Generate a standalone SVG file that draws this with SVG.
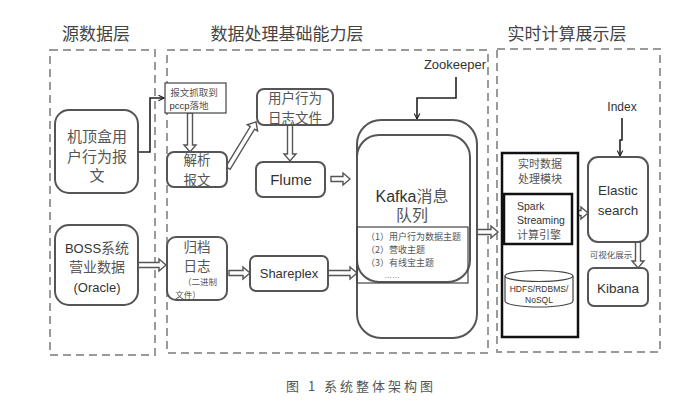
<svg xmlns="http://www.w3.org/2000/svg" width="682" height="409" viewBox="0 0 682 409">
<style>
.layer{fill:none;stroke:#9a9a9a;stroke-width:2;stroke-dasharray:8,5}
.box{fill:#fff;stroke:#555;stroke-width:2}
.thick{fill:#fff;stroke:#111;stroke-width:2.5}
.thin{fill:#fff;stroke:#444;stroke-width:1.2}
.ha{fill:#fff;stroke:#555;stroke-width:1.4;stroke-linejoin:miter}
.ln{fill:none;stroke:#222;stroke-width:1.6}
text{font-family:"Liberation Sans","Noto Sans CJK SC",sans-serif;text-anchor:middle;fill:#333}
.cn{font-family:"Noto Sans CJK SC",sans-serif;fill:#555}
.title{font-family:"Noto Sans CJK SC",sans-serif;font-size:17px;fill:#444}
</style>
<defs>
<marker id="ah" viewBox="0 0 10 10" refX="9" refY="5" markerWidth="7" markerHeight="7" markerUnits="userSpaceOnUse" orient="auto">
<path d="M1,1 L9,5 L1,9" fill="none" stroke="#222" stroke-width="1.6"/>
</marker>
</defs>

<g id="layers">
<rect class="layer" x="50" y="50" width="105" height="305"/>
<rect class="layer" x="167" y="50" width="321" height="303"/>
<rect class="layer" x="497" y="49" width="163" height="303"/>
<text class="title" x="96" y="40">源数据层</text>
<text class="title" x="287" y="40">数据处理基础能力层</text>
<text class="title" x="567" y="40">实时计算展示层</text>
</g>

<g id="connectors">
<polyline class="ln" points="138,152 150,152 150,98 164,98" marker-end="url(#ah)"/>
<polyline class="ln" points="456,77 456,98 417,98 417,119" marker-end="url(#ah)"/>
<polyline class="ln" points="622,118 622,140 620,140 620,156" marker-end="url(#ah)"/>
<polygon class="ha" points="187.5,113 192.5,113 192.5,145 196,145 190,152 184,145 187.5,145"/>
<polygon class="ha" transform="translate(228,168) rotate(-58.7)" points="0,-2.5 47,-2.5 47,-6 54,0 47,6 47,2.5 0,2.5"/>
<polygon class="ha" points="287.5,125 292.5,125 292.5,154 296,154 290,161 284,154 287.5,154"/>
<polygon class="ha" points="331,176.5 343,176.5 343,173 350,179 343,185 343,181.5 331,181.5"/>
<polygon class="ha" points="138,262.5 159,262.5 159,259 166,265 159,271 159,267.5 138,267.5"/>
<polygon class="ha" points="229,270.5 243,270.5 243,267 250,273 243,279 243,275.5 229,275.5"/>
<polygon class="ha" points="328,270.5 350,270.5 350,267 357,273 350,279 350,275.5 328,275.5"/>
<polygon class="ha" points="477,229.5 491,229.5 491,226 498,232 491,238 491,234.5 477,234.5"/>
<polygon class="ha" points="535.5,244 540.5,244 540.5,262 544,262 538,269 532,262 535.5,262"/>
<polygon class="ha" points="572,210.5 581,210.5 581,207 588,213 581,219 581,215.5 572,215.5"/>
<polygon class="ha" points="635.5,242 640.5,242 640.5,261 644,261 638,268 632,261 635.5,261"/>
</g>

<g id="n-stb">
<rect class="box" x="55" y="110" width="83" height="83" rx="14"/>
<text class="cn" font-size="15" x="97" y="142">机顶盒用</text>
<text class="cn" font-size="15" x="97" y="162">户行为报</text>
<text class="cn" font-size="15" x="97" y="181">文</text>
</g>

<g id="n-boss">
<rect class="box" x="55" y="225" width="83" height="80" rx="14"/>
<text font-size="13" x="97" y="253">BOSS<tspan class="cn" font-size="14">系统</tspan></text>
<text class="cn" font-size="14" x="97" y="272">营业数据</text>
<text font-size="13" x="97" y="292">(Oracle)</text>
</g>

<g id="n-capture">
<rect class="thin" x="165" y="83" width="61" height="30"/>
<text class="cn" font-size="9.5" x="194" y="96" fill="#333">报文抓取到</text>
<text font-size="9.5" x="189" y="109">pccp<tspan class="cn">落地</tspan></text>
</g>

<g id="n-parse">
<rect class="box" x="167" y="152" width="60" height="35" rx="7"/>
<text class="cn" font-size="13.5" x="197" y="165">解析</text>
<text class="cn" font-size="13.5" x="197" y="185">报文</text>
</g>

<g id="n-userlog">
<rect class="box" x="257" y="89" width="76" height="36" rx="7"/>
<text class="cn" font-size="13.5" x="295" y="103">用户行为</text>
<text class="cn" font-size="13.5" x="295" y="123">日志文件</text>
</g>

<g id="n-flume">
<rect class="box" x="256" y="162" width="69" height="35" rx="7"/>
<text font-size="15" x="291" y="185">Flume</text>
</g>

<g id="n-archive">
<rect class="box" x="167" y="237" width="60" height="63" rx="9"/>
<text class="cn" font-size="13.5" x="197" y="252">归档</text>
<text class="cn" font-size="13.5" x="197" y="271">日志</text>
<text class="cn" font-size="8.5" x="200" y="285">（二进制</text>
<text class="cn" font-size="8.5" x="188" y="298">文件）</text>
</g>

<g id="n-shareplex">
<rect class="box" x="250" y="256" width="78" height="35" rx="6"/>
<text font-size="13" x="289" y="278">Shareplex</text>
</g>

<g id="n-kafka">
<rect class="box" x="357" y="120" width="120" height="218" rx="24"/>
<rect class="box" x="357" y="135" width="113" height="147" rx="22"/>
<rect class="thin" x="357" y="227" width="111" height="56" style="fill:none"/>
<text font-size="16" x="412" y="202">Kafka<tspan class="cn">消息</tspan></text>
<text class="cn" font-size="16" x="412" y="221">队列</text>
<text class="cn" font-size="9" x="366" y="240" style="text-anchor:start">（1）用户行为数据主题</text>
<text class="cn" font-size="9" x="366" y="253" style="text-anchor:start">（2）营收主题</text>
<text class="cn" font-size="9" x="366" y="266" style="text-anchor:start">（3）有线宝主题</text>
<text font-size="7.5" x="392" y="278">……</text>
</g>

<g id="n-zookeeper">
<text font-size="13" x="455" y="69">Zookeeper</text>
</g>

<g id="n-realtime">
<rect class="thick" x="502" y="153" width="76" height="184"/>
<text class="cn" font-size="11" x="540" y="168" fill="#333">实时数据</text>
<text class="cn" font-size="11" x="540" y="183" fill="#333">处理模块</text>
</g>

<g id="n-spark">
<rect class="thick" x="504" y="194" width="68" height="50"/>
<text font-size="10.5" x="517" y="210" style="text-anchor:start">Spark</text>
<text font-size="10.5" x="517" y="224" style="text-anchor:start">Streaming</text>
<text class="cn" font-size="11" x="539" y="239" fill="#333">计算引擎</text>
</g>

<g id="n-storage">
<path class="thin" d="M505,276 L505,301 A34,6 0 0 0 573,301 L573,276" stroke-width="1.4"/>
<ellipse class="thin" cx="539" cy="276" rx="34" ry="5.5" stroke-width="1.4"/>
<text font-size="8.5" x="539" y="292">HDFS/RDBMS/</text>
<text font-size="8.5" x="539" y="303">NoSQL</text>
</g>

<g id="n-elastic">
<rect class="box" x="588" y="157" width="60" height="85" rx="10"/>
<text font-size="13.5" x="618" y="195">Elastic</text>
<text font-size="13.5" x="618" y="215">search</text>
</g>

<g id="n-index">
<text font-size="12" x="622" y="111">Index</text>
</g>

<g id="n-kibana">
<rect class="box" x="588" y="268" width="60" height="38" rx="6"/>
<text font-size="13.5" x="618" y="293">Kibana</text>
<text class="cn" font-size="8.5" x="611" y="258">可视化展示</text>
</g>

<g id="caption">
<text class="cn" font-size="13" x="361" y="391" fill="#333" letter-spacing="3">图 1 系统整体架构图</text>
</g>
</svg>
